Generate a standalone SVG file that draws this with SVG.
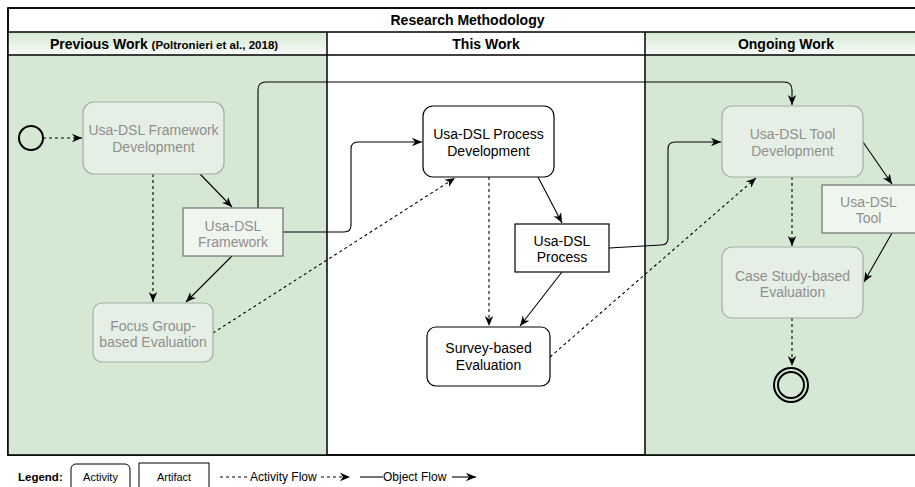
<svg xmlns="http://www.w3.org/2000/svg" width="915" height="487" viewBox="0 0 915 487">
<defs>
<linearGradient id="hdr" x1="0" y1="0" x2="0" y2="1">
<stop offset="0" stop-color="#d5e8d4"/>
<stop offset="1" stop-color="#f8fbf8"/>
</linearGradient>
<marker id="arr" viewBox="0 0 10 10" refX="10" refY="5" markerWidth="10" markerHeight="10" markerUnits="userSpaceOnUse" orient="auto">
<path d="M0,0.8 L10,5 L0,9.2 L3,5 Z" fill="#000"/>
</marker>
<style>
text{font-family:"Liberation Sans",Arial,sans-serif;text-anchor:middle}
.t{font-size:14px;fill:#000}
.tf{font-size:14px;fill:#8f8f8f}
.hd{font-size:14px;font-weight:bold}
.act{fill:#fff;stroke:#000;stroke-width:1.2}
.actf{fill:#e6efe5;stroke:#a3ada2;stroke-width:1.2}
.art{fill:#fff;stroke:#000;stroke-width:1.2}
.artf{fill:#eff6ee;stroke:#6e6e6e;stroke-width:1.2}
.s{fill:none;stroke:#000;stroke-width:1.1;marker-end:url(#arr)}
.d{fill:none;stroke:#000;stroke-width:1.1;stroke-dasharray:3 3;marker-end:url(#arr)}
</style>
</defs>
<g id="frame">
<rect x="8" y="8" width="919" height="447" fill="#fff" stroke="#000" stroke-width="1.5"/>
<rect x="8" y="55" width="319" height="400" fill="#d5e8d4"/>
<rect x="645" y="55" width="282" height="400" fill="#d5e8d4"/>
<rect x="8" y="32" width="319" height="23" fill="url(#hdr)"/>
<rect x="645" y="32" width="282" height="23" fill="url(#hdr)"/>
<line x1="8" y1="32" x2="927" y2="32" stroke="#000" stroke-width="1.5"/>
<line x1="8" y1="55" x2="927" y2="55" stroke="#000" stroke-width="1.5"/>
<line x1="327" y1="32" x2="327" y2="455" stroke="#000" stroke-width="1.5"/>
<line x1="645" y1="32" x2="645" y2="455" stroke="#000" stroke-width="1.5"/>
<rect x="8" y="8" width="919" height="447" fill="none" stroke="#000" stroke-width="1.5"/>
<text class="hd" x="467.5" y="25">Research Methodology</text>
<text class="hd" x="164" y="48.5">Previous Work <tspan font-size="11.5px">(Poltronieri et al., 2018)</tspan></text>
<text class="hd" x="486" y="48.5">This Work</text>
<text class="hd" x="786" y="48.5">Ongoing Work</text>
</g>
<g id="connectors">
<path class="d" d="M43,138 L82,138"/>
<path class="d" d="M153,174 L153,302"/>
<path class="s" d="M200,174 L232,207"/>
<path class="s" d="M232,256 L186,302"/>
<path class="s" d="M258,208 L258,90 Q258,82 266,82 L784,82 Q792,82 792,90 L792,105"/>
<path class="s" d="M283,232 L344,232 Q351,232 351,225 L351,149 Q351,142 358,142 L422,142"/>
<path class="d" d="M213,333 L455,178"/>
<path class="d" d="M489,177 L489,326"/>
<path class="s" d="M538,177 L562,223"/>
<path class="s" d="M562,272 L520,326"/>
<path class="s" d="M609,248 L661,245 Q668,245 668,238 L668,149 Q668,142 675,142 L721,142"/>
<path class="d" d="M550,357 L756,178"/>
<path class="s" d="M863,142 L892,184"/>
<path class="s" d="M892,233 L864,282"/>
<path class="d" d="M792,177 L792,246"/>
<path class="d" d="M792,318 L792,366"/>
</g>
<g id="start">
<circle cx="31" cy="138" r="12" fill="none" stroke="#000" stroke-width="2"/>
</g>
<g id="framework-dev">
<rect class="actf" x="83" y="102" width="141" height="72" rx="11"/>
<text class="tf" x="153.5" y="135">Usa-DSL Framework</text>
<text class="tf" x="153.5" y="152">Development</text>
</g>
<g id="framework-artifact">
<rect class="artf" x="183" y="208" width="100" height="48"/>
<text class="tf" x="233" y="231">Usa-DSL</text>
<text class="tf" x="233" y="247">Framework</text>
</g>
<g id="focus-group">
<rect class="actf" x="93" y="303" width="120" height="59" rx="9"/>
<text class="tf" x="153" y="331">Focus Group-</text>
<text class="tf" x="153" y="347">based Evaluation</text>
</g>
<g id="process-dev">
<rect class="act" x="423" y="106" width="131" height="71" rx="10"/>
<text class="t" x="488.5" y="139">Usa-DSL Process</text>
<text class="t" x="488.5" y="156">Development</text>
</g>
<g id="process-artifact">
<rect class="art" x="515" y="224" width="94" height="48"/>
<text class="t" x="562" y="246">Usa-DSL</text>
<text class="t" x="562" y="262">Process</text>
</g>
<g id="survey">
<rect class="act" x="427" y="327" width="123" height="59" rx="9"/>
<text class="t" x="488.5" y="353">Survey-based</text>
<text class="t" x="488.5" y="370">Evaluation</text>
</g>
<g id="tool-dev">
<rect class="actf" x="722" y="106" width="141" height="71" rx="10"/>
<text class="tf" x="792.5" y="139">Usa-DSL Tool</text>
<text class="tf" x="792.5" y="156">Development</text>
</g>
<g id="tool-artifact">
<rect class="artf" x="822" y="185" width="94" height="48"/>
<text class="tf" x="868.5" y="207">Usa-DSL</text>
<text class="tf" x="868.5" y="223">Tool</text>
</g>
<g id="case-study">
<rect class="actf" x="722" y="247" width="141" height="71" rx="10"/>
<text class="tf" x="792.5" y="281">Case Study-based</text>
<text class="tf" x="792.5" y="297">Evaluation</text>
</g>
<g id="end">
<circle cx="791" cy="385" r="17" fill="none" stroke="#000" stroke-width="2"/>
<circle cx="791" cy="385" r="13" fill="none" stroke="#000" stroke-width="2"/>
</g>
<g id="legend">
<text x="18" y="481" font-size="11.5px" font-weight="bold" style="text-anchor:start">Legend:</text>
<rect x="71" y="464" width="59" height="30" rx="5" fill="#fff" stroke="#000" stroke-width="1"/>
<text x="100.5" y="481" font-size="11px">Activity</text>
<rect x="139" y="463" width="70" height="32" fill="#fff" stroke="#000" stroke-width="1"/>
<text x="174" y="481" font-size="11px">Artifact</text>
<line x1="220" y1="477" x2="249" y2="477" stroke="#000" stroke-width="1" stroke-dasharray="3 3"/>
<text x="250" y="481" font-size="12px" style="text-anchor:start">Activity Flow</text>
<path class="d" d="M321,477 L350,477"/>
<line x1="360" y1="477" x2="383" y2="477" stroke="#000" stroke-width="1.1"/>
<text x="383" y="481" font-size="12px" style="text-anchor:start">Object Flow</text>
<path class="s" d="M452,477 L476,477"/>
</g>
</svg>
